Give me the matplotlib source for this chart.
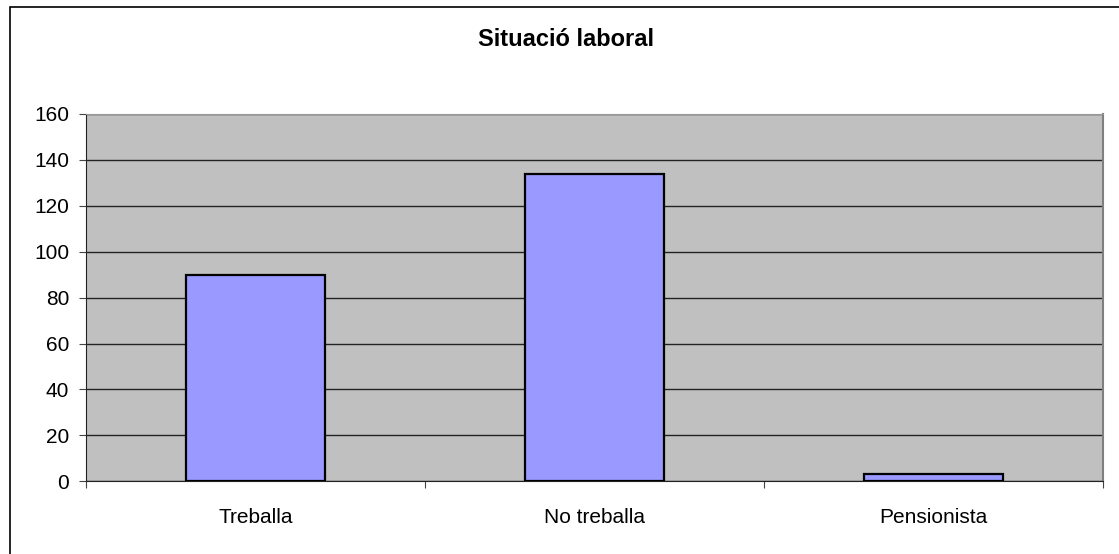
import matplotlib.pyplot as plt
from matplotlib.patches import Rectangle

categories = ["Treballa", "No treballa", "Pensionista"]
values = [90, 134, 3]
yticks = [0, 20, 40, 60, 80, 100, 120, 140, 160]

plt.rcParams['font.family'] = ['Liberation Sans', 'DejaVu Sans']

fig = plt.figure(figsize=(11.19, 5.54), dpi=100)

# outer chart frame (only left and top edges visible in the reference)
fig.patches.append(Rectangle((10 / 1119, -0.1), 1.2, (547 + 55) / 554,
                             transform=fig.transFigure, fill=False,
                             edgecolor='black', linewidth=1.2))

ax = fig.add_axes([86 / 1119, 1 - 481.3 / 554, 1017 / 1119, 367.3 / 554])
ax.set_facecolor('#C0C0C0')

x = range(len(categories))
ax.bar(x, values, width=0.41, color='#9999FF', edgecolor='black',
       linewidth=1.6, zorder=3)

ax.set_xlim(-0.5, len(categories) - 0.5)
ax.set_ylim(0, 160)
ax.set_yticks(yticks)
ax.yaxis.grid(True, color='#222222', linewidth=1)
ax.set_axisbelow(True)

ax.set_xticks([i + 0.5 for i in range(-1, len(categories))])
ax.set_xticklabels([])
ax.set_xticks(list(x), minor=True)
ax.set_xticklabels(categories, minor=True, fontsize=15)
ax.tick_params(axis='x', which='minor', length=0, pad=19)
ax.tick_params(axis='x', which='major', length=5, direction='out',
               color='#444444')
ax.tick_params(axis='y', length=5, direction='out', labelsize=15, pad=7,
               color='#444444')

ax.spines['left'].set_color('#222222')
ax.spines['bottom'].set_color('#222222')
ax.spines['top'].set_color('#999999')
ax.spines['right'].set_color('#808080')
ax.spines['right'].set_linewidth(1.5)

fig.text(566 / 1119, 1 - 46 / 554, "Situació laboral", ha='center',
         va='baseline', fontsize=17, fontweight='bold')

fig.savefig('out.png', dpi=100)
